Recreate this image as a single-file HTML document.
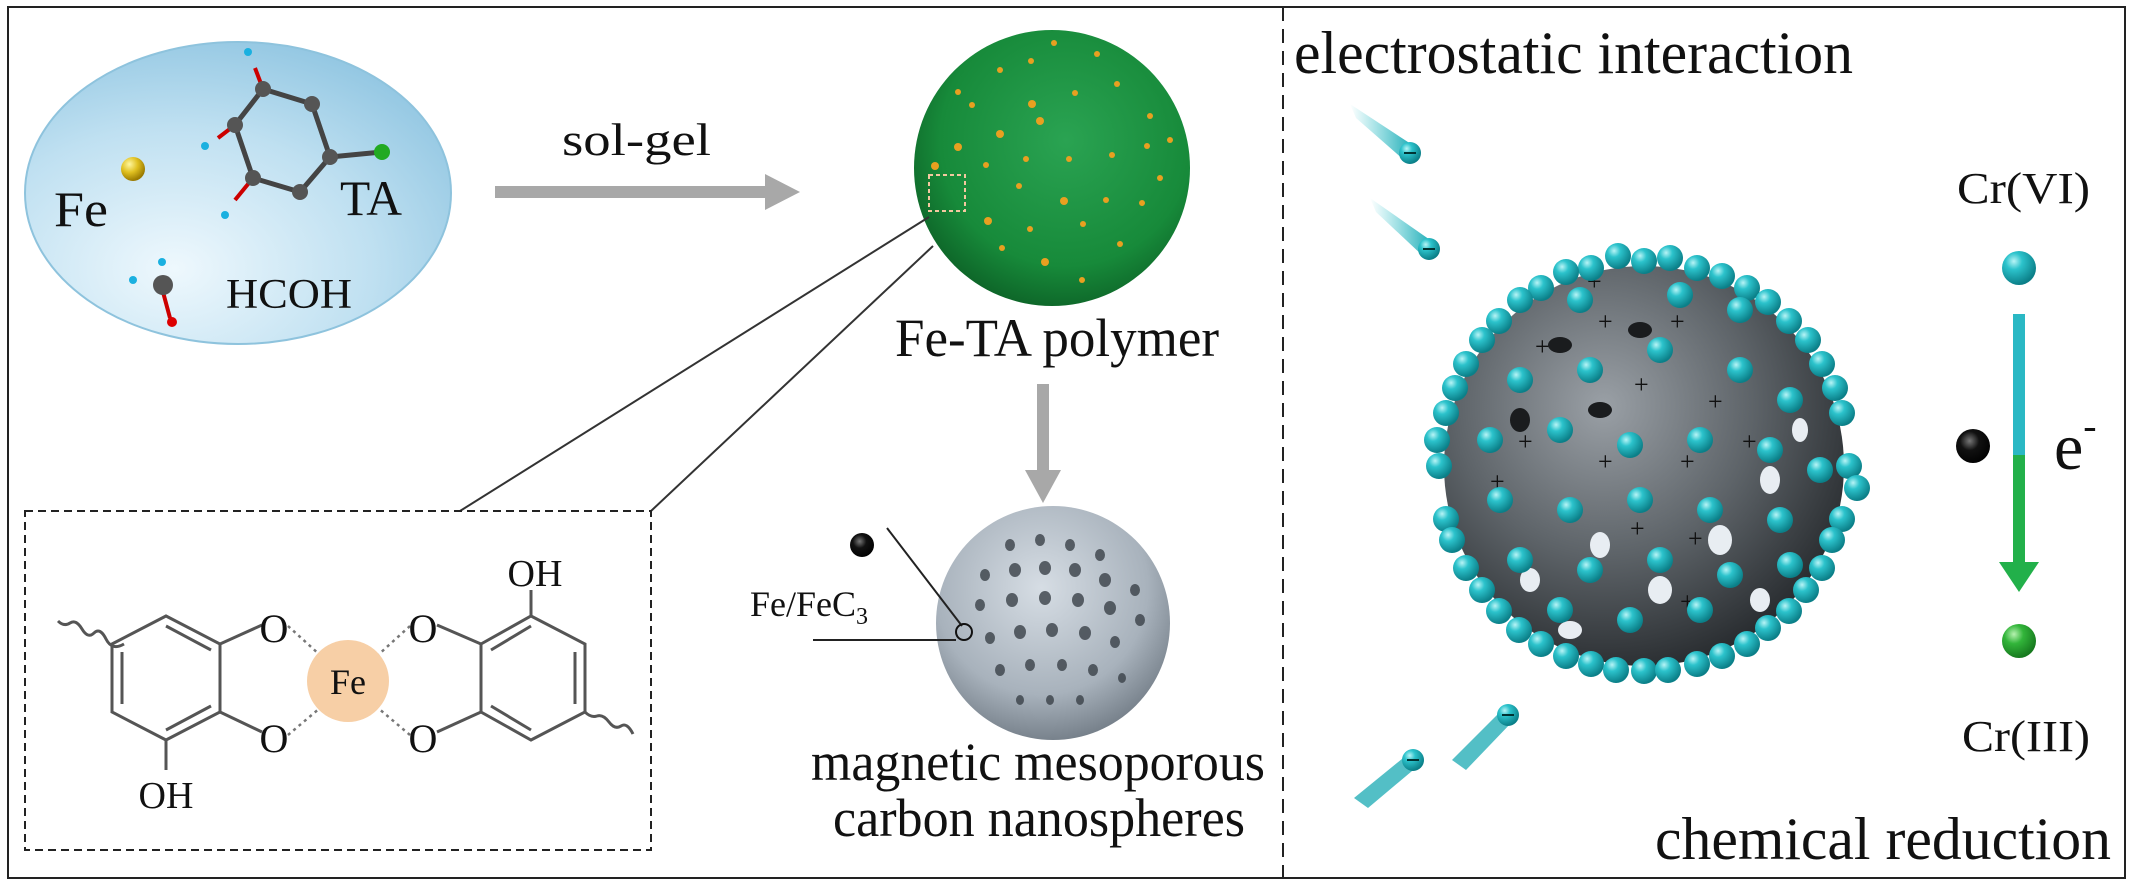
<!DOCTYPE html>
<html><head><meta charset="utf-8"><style>
html,body{margin:0;padding:0;background:#fff;}
svg{display:block;}
text{font-family:"Liberation Serif",serif;fill:#111;}
</style></head><body>
<svg width="2129" height="886" viewBox="0 0 2129 886" xmlns="http://www.w3.org/2000/svg">
<defs>
<radialGradient id="ell" cx="0.35" cy="0.75" r="0.85">
<stop offset="0" stop-color="#eef8fd"/><stop offset="0.55" stop-color="#bfe0f1"/><stop offset="1" stop-color="#8cc3e0"/></radialGradient>
<radialGradient id="grn" cx="0.55" cy="0.4" r="0.65">
<stop offset="0" stop-color="#2aa352"/><stop offset="0.7" stop-color="#178a3a"/><stop offset="1" stop-color="#0c5e25"/></radialGradient>
<radialGradient id="gry" cx="0.45" cy="0.35" r="0.7">
<stop offset="0" stop-color="#d6dde4"/><stop offset="0.65" stop-color="#a8b2bc"/><stop offset="1" stop-color="#6c7680"/></radialGradient>
<radialGradient id="big" cx="0.4" cy="0.35" r="0.75">
<stop offset="0" stop-color="#9aa0a6"/><stop offset="0.5" stop-color="#5d6368"/><stop offset="1" stop-color="#1c1f22"/></radialGradient>
<radialGradient id="teal" cx="0.35" cy="0.3" r="0.7">
<stop offset="0" stop-color="#b8f4f6"/><stop offset="0.35" stop-color="#2cc3cc"/><stop offset="1" stop-color="#0b7f88"/></radialGradient>
<radialGradient id="gball" cx="0.35" cy="0.3" r="0.7">
<stop offset="0" stop-color="#b6f2b0"/><stop offset="0.4" stop-color="#32b53a"/><stop offset="1" stop-color="#177a1f"/></radialGradient>
<radialGradient id="blk" cx="0.4" cy="0.35" r="0.7">
<stop offset="0" stop-color="#777"/><stop offset="0.4" stop-color="#111"/><stop offset="1" stop-color="#000"/></radialGradient>
<radialGradient id="yel" cx="0.35" cy="0.3" r="0.7">
<stop offset="0" stop-color="#fff7a0"/><stop offset="0.5" stop-color="#e0c020"/><stop offset="1" stop-color="#9a7a00"/></radialGradient>
<linearGradient id="tail" x1="0" y1="0" x2="1" y2="0">
<stop offset="0" stop-color="#2cc3cc" stop-opacity="0"/><stop offset="1" stop-color="#1aa9b3"/></linearGradient>
<g id="tb"><circle r="13" fill="url(#teal)"/></g>
</defs>

<rect x="8" y="7" width="2117" height="871" fill="none" stroke="#222" stroke-width="2"/>
<line x1="1283" y1="7" x2="1283" y2="878" stroke="#222" stroke-width="2" stroke-dasharray="14,8"/>

<ellipse cx="238" cy="193" rx="213" ry="151" fill="url(#ell)" stroke="#8ec3dd" stroke-width="2"/>
<circle cx="133" cy="169" r="12" fill="url(#yel)"/>
<text x="54" y="226" font-size="50" textLength="54" lengthAdjust="spacingAndGlyphs">Fe</text>
<text x="340" y="215" font-size="50" textLength="62" lengthAdjust="spacingAndGlyphs">TA</text>
<text x="226" y="308" font-size="42" textLength="126" lengthAdjust="spacingAndGlyphs">HCOH</text>
<g stroke="#444" stroke-width="5" fill="none">
<polyline points="263,89 312,104 330,157 300,192 253,178 235,125 263,89"/>
<line x1="330" y1="157" x2="382" y2="152"/>
</g>
<g stroke="#c00" stroke-width="4"><line x1="263" y1="89" x2="255" y2="68"/><line x1="235" y1="125" x2="218" y2="138"/><line x1="253" y1="178" x2="235" y2="200"/><line x1="163" y1="292" x2="170" y2="318"/></g>
<g fill="#555"><circle cx="263" cy="89" r="8"/><circle cx="312" cy="104" r="8"/><circle cx="330" cy="157" r="8"/><circle cx="300" cy="192" r="8"/><circle cx="253" cy="178" r="8"/><circle cx="235" cy="125" r="8"/><circle cx="163" cy="285" r="10"/></g>
<circle cx="382" cy="152" r="8" fill="#2a2"/>
<g fill="#1ab0e0"><circle cx="248" cy="52" r="4"/><circle cx="205" cy="146" r="4"/><circle cx="225" cy="215" r="4"/><circle cx="133" cy="280" r="4"/><circle cx="162" cy="262" r="4"/></g>
<circle cx="172" cy="322" r="5" fill="#d00"/>

<text x="562" y="155" font-size="46" textLength="149" lengthAdjust="spacingAndGlyphs">sol-gel</text>
<rect x="495" y="186" width="272" height="12" fill="#a8a8a8"/>
<polygon points="765,174 800,192 765,210" fill="#a8a8a8"/>

<circle cx="1052" cy="168" r="138" fill="url(#grn)"/>
<g fill="#e8a020">
<circle cx="1054" cy="43" r="3"/><circle cx="1097" cy="54" r="3"/><circle cx="1031" cy="61" r="3"/><circle cx="1032" cy="104" r="4"/><circle cx="1075" cy="93" r="3"/><circle cx="1117" cy="84" r="3"/><circle cx="1040" cy="121" r="4"/><circle cx="958" cy="92" r="3"/><circle cx="972" cy="105" r="3"/><circle cx="1000" cy="134" r="4"/><circle cx="958" cy="147" r="4"/><circle cx="1026" cy="159" r="3"/><circle cx="1069" cy="159" r="3"/><circle cx="1112" cy="155" r="3"/><circle cx="1147" cy="146" r="3"/><circle cx="1160" cy="178" r="3"/><circle cx="986" cy="165" r="3"/><circle cx="1019" cy="186" r="3"/><circle cx="1064" cy="201" r="4"/><circle cx="1106" cy="200" r="3"/><circle cx="1142" cy="203" r="3"/><circle cx="988" cy="221" r="4"/><circle cx="1030" cy="229" r="3"/><circle cx="1083" cy="224" r="3"/><circle cx="1120" cy="244" r="3"/><circle cx="1045" cy="262" r="4"/><circle cx="1002" cy="248" r="3"/><circle cx="1082" cy="280" r="3"/><circle cx="1150" cy="116" r="3"/><circle cx="935" cy="166" r="4"/><circle cx="1170" cy="140" r="3"/><circle cx="1000" cy="70" r="3"/>
</g>
<rect x="929" y="175" width="36" height="36" fill="none" stroke="#f4c8a0" stroke-width="2" stroke-dasharray="4,3"/>
<text x="895" y="356" font-size="54" textLength="324" lengthAdjust="spacingAndGlyphs">Fe-TA polymer</text>

<line x1="929" y1="217" x2="460" y2="511" stroke="#333" stroke-width="2"/>
<line x1="933" y1="246" x2="651" y2="511" stroke="#333" stroke-width="2"/>

<rect x="1037" y="384" width="12" height="88" fill="#a8a8a8"/>
<polygon points="1025,470 1061,470 1043,503" fill="#a8a8a8"/>

<circle cx="1053" cy="623" r="117" fill="url(#gry)"/>
<g fill="#3a4148" opacity="0.8">
<ellipse cx="1010" cy="545" rx="5" ry="6"/><ellipse cx="1040" cy="540" rx="5" ry="6"/><ellipse cx="1070" cy="545" rx="5" ry="6"/><ellipse cx="1100" cy="555" rx="5" ry="6"/>
<ellipse cx="985" cy="575" rx="5" ry="6"/><ellipse cx="1015" cy="570" rx="6" ry="7"/><ellipse cx="1045" cy="568" rx="6" ry="7"/><ellipse cx="1075" cy="570" rx="6" ry="7"/><ellipse cx="1105" cy="580" rx="6" ry="7"/><ellipse cx="1135" cy="590" rx="5" ry="6"/>
<ellipse cx="980" cy="605" rx="5" ry="6"/><ellipse cx="1012" cy="600" rx="6" ry="7"/><ellipse cx="1045" cy="598" rx="6" ry="7"/><ellipse cx="1078" cy="600" rx="6" ry="7"/><ellipse cx="1110" cy="608" rx="6" ry="7"/><ellipse cx="1140" cy="620" rx="5" ry="6"/>
<ellipse cx="990" cy="638" rx="5" ry="6"/><ellipse cx="1020" cy="632" rx="6" ry="7"/><ellipse cx="1052" cy="630" rx="6" ry="7"/><ellipse cx="1085" cy="633" rx="6" ry="7"/><ellipse cx="1115" cy="642" rx="5" ry="6"/>
<ellipse cx="1000" cy="670" rx="5" ry="6"/><ellipse cx="1030" cy="665" rx="5" ry="6"/><ellipse cx="1062" cy="665" rx="5" ry="6"/><ellipse cx="1093" cy="670" rx="5" ry="6"/><ellipse cx="1122" cy="678" rx="4" ry="5"/>
<ellipse cx="1020" cy="700" rx="4" ry="5"/><ellipse cx="1050" cy="700" rx="4" ry="5"/><ellipse cx="1080" cy="700" rx="4" ry="5"/>
</g>
<circle cx="862" cy="545" r="12" fill="url(#blk)"/>
<line x1="887" y1="528" x2="962" y2="626" stroke="#222" stroke-width="2"/>
<line x1="813" y1="640" x2="956" y2="640" stroke="#222" stroke-width="2"/>
<circle cx="964" cy="632" r="8" fill="none" stroke="#111" stroke-width="2"/>
<text x="750" y="616" font-size="36">Fe/FeC<tspan font-size="24" dy="8">3</tspan></text>
<text x="811" y="780" font-size="54" textLength="454" lengthAdjust="spacingAndGlyphs">magnetic mesoporous</text>
<text x="833" y="836" font-size="54" textLength="412" lengthAdjust="spacingAndGlyphs">carbon nanospheres</text>

<rect x="25" y="511" width="626" height="339" fill="none" stroke="#222" stroke-width="2" stroke-dasharray="8,5"/>
<g stroke="#555" stroke-width="3" fill="none">
<polygon points="112,644 166,616 220,644 220,712 166,740 112,712"/>
<line x1="122" y1="652" x2="122" y2="704"/><line x1="166" y1="626" x2="211" y2="650"/><line x1="166" y1="730" x2="211" y2="706"/>
<polygon points="481,644 531,616 585,644 585,712 531,740 481,712"/>
<line x1="491" y1="650" x2="531" y2="626"/><line x1="491" y1="706" x2="531" y2="730"/><line x1="575" y1="652" x2="575" y2="704"/>
<line x1="220" y1="644" x2="262" y2="625"/><line x1="220" y1="712" x2="262" y2="732"/>
<line x1="481" y1="644" x2="437" y2="625"/><line x1="481" y1="712" x2="437" y2="732"/>
<line x1="531" y1="616" x2="531" y2="590"/><line x1="166" y1="740" x2="166" y2="770"/>
<path d="M58,621 q6,6 12,2 t12,6 t12,4 t12,6 t18,5"/>
<path d="M585,712 q6,6 12,4 t12,6 t12,4 t12,8"/>
</g>
<g stroke="#777" stroke-width="2.5" stroke-dasharray="3,4">
<line x1="288" y1="626" x2="320" y2="655"/><line x1="288" y1="735" x2="320" y2="708"/>
<line x1="410" y1="626" x2="378" y2="655"/><line x1="410" y1="735" x2="378" y2="708"/>
</g>
<circle cx="348" cy="681" r="41" fill="#f7cfa6"/>
<text x="348" y="694" font-size="36" text-anchor="middle">Fe</text>
<text x="274" y="642" font-size="40" text-anchor="middle">O</text>
<text x="274" y="752" font-size="40" text-anchor="middle">O</text>
<text x="423" y="642" font-size="40" text-anchor="middle">O</text>
<text x="423" y="752" font-size="40" text-anchor="middle">O</text>
<text x="535" y="586" font-size="38" text-anchor="middle">OH</text>
<text x="166" y="808" font-size="38" text-anchor="middle">OH</text>

<text x="1294" y="73" font-size="60" textLength="559" lengthAdjust="spacingAndGlyphs">electrostatic interaction</text>
<text x="1655" y="859" font-size="60" textLength="456" lengthAdjust="spacingAndGlyphs">chemical reduction</text>

<g>
<polygon points="1350,104 1356,118 1404,160 1414,146" fill="url(#tail)"/>
<circle cx="1410" cy="153" r="11" fill="url(#teal)"/><line x1="1404" y1="153" x2="1416" y2="153" stroke="#033" stroke-width="2"/>
<polygon points="1370,198 1376,212 1423,256 1433,242" fill="url(#tail)"/>
<circle cx="1429" cy="249" r="11" fill="url(#teal)"/><line x1="1423" y1="249" x2="1435" y2="249" stroke="#033" stroke-width="2"/>
<polygon points="1452,760 1466,770 1512,722 1502,710" fill="#1aa9b3" opacity="0.75"/>
<circle cx="1508" cy="715" r="11" fill="url(#teal)"/><line x1="1502" y1="715" x2="1514" y2="715" stroke="#033" stroke-width="2"/>
<polygon points="1354,798 1368,808 1418,766 1408,754" fill="#1aa9b3" opacity="0.75"/>
<circle cx="1413" cy="760" r="11" fill="url(#teal)"/><line x1="1407" y1="760" x2="1419" y2="760" stroke="#033" stroke-width="2"/>
</g>

<circle cx="1644" cy="466" r="200" fill="url(#big)"/>
<g fill="#1a1c1e">
<ellipse cx="1560" cy="345" rx="12" ry="8"/><ellipse cx="1640" cy="330" rx="12" ry="8"/><ellipse cx="1520" cy="420" rx="10" ry="12"/><ellipse cx="1600" cy="410" rx="12" ry="8"/>
</g>
<g fill="#e8edf2">
<ellipse cx="1770" cy="480" rx="10" ry="14"/><ellipse cx="1720" cy="540" rx="12" ry="15"/><ellipse cx="1660" cy="590" rx="12" ry="14"/><ellipse cx="1600" cy="545" rx="10" ry="13"/><ellipse cx="1800" cy="430" rx="8" ry="12"/><ellipse cx="1570" cy="630" rx="12" ry="9"/><ellipse cx="1760" cy="600" rx="10" ry="12"/><ellipse cx="1530" cy="580" rx="10" ry="12"/>
</g>
<g font-size="26" fill="#111">
<text x="1587" y="290">+</text><text x="1598" y="330">+</text><text x="1670" y="330">+</text><text x="1535" y="355">+</text><text x="1634" y="393">+</text><text x="1708" y="410">+</text><text x="1518" y="450">+</text><text x="1598" y="470">+</text><text x="1680" y="470">+</text><text x="1742" y="450">+</text><text x="1490" y="490">+</text><text x="1630" y="537">+</text><text x="1688" y="547">+</text><text x="1680" y="610">+</text>
</g>
<g>
<use href="#tb" x="1849" y="466"/><use href="#tb" x="1842" y="519"/><use href="#tb" x="1822" y="568"/><use href="#tb" x="1789" y="611"/><use href="#tb" x="1747" y="644"/><use href="#tb" x="1697" y="664"/><use href="#tb" x="1644" y="671"/><use href="#tb" x="1591" y="664"/><use href="#tb" x="1541" y="644"/><use href="#tb" x="1499" y="611"/><use href="#tb" x="1466" y="568"/><use href="#tb" x="1446" y="519"/><use href="#tb" x="1439" y="466"/><use href="#tb" x="1446" y="413"/><use href="#tb" x="1466" y="364"/><use href="#tb" x="1499" y="321"/><use href="#tb" x="1541" y="288"/><use href="#tb" x="1591" y="268"/><use href="#tb" x="1644" y="261"/><use href="#tb" x="1697" y="268"/><use href="#tb" x="1747" y="288"/><use href="#tb" x="1789" y="321"/><use href="#tb" x="1822" y="364"/><use href="#tb" x="1842" y="413"/>
<use href="#tb" x="1857" y="488"/><use href="#tb" x="1832" y="540"/><use href="#tb" x="1806" y="590"/><use href="#tb" x="1768" y="628"/><use href="#tb" x="1722" y="656"/><use href="#tb" x="1668" y="670"/><use href="#tb" x="1616" y="670"/><use href="#tb" x="1566" y="656"/><use href="#tb" x="1519" y="630"/><use href="#tb" x="1482" y="590"/><use href="#tb" x="1452" y="540"/><use href="#tb" x="1437" y="440"/><use href="#tb" x="1455" y="388"/><use href="#tb" x="1482" y="340"/><use href="#tb" x="1520" y="300"/><use href="#tb" x="1566" y="272"/><use href="#tb" x="1618" y="256"/><use href="#tb" x="1670" y="258"/><use href="#tb" x="1722" y="276"/><use href="#tb" x="1768" y="302"/><use href="#tb" x="1808" y="340"/><use href="#tb" x="1835" y="388"/>
<use href="#tb" x="1580" y="300"/><use href="#tb" x="1680" y="295"/><use href="#tb" x="1740" y="310"/>
<use href="#tb" x="1520" y="380"/><use href="#tb" x="1590" y="370"/><use href="#tb" x="1660" y="350"/><use href="#tb" x="1740" y="370"/><use href="#tb" x="1790" y="400"/>
<use href="#tb" x="1490" y="440"/><use href="#tb" x="1560" y="430"/><use href="#tb" x="1630" y="445"/><use href="#tb" x="1700" y="440"/><use href="#tb" x="1770" y="450"/><use href="#tb" x="1820" y="470"/>
<use href="#tb" x="1500" y="500"/><use href="#tb" x="1570" y="510"/><use href="#tb" x="1640" y="500"/><use href="#tb" x="1710" y="510"/><use href="#tb" x="1780" y="520"/>
<use href="#tb" x="1520" y="560"/><use href="#tb" x="1590" y="570"/><use href="#tb" x="1660" y="560"/><use href="#tb" x="1730" y="575"/><use href="#tb" x="1790" y="565"/>
<use href="#tb" x="1560" y="610"/><use href="#tb" x="1630" y="620"/><use href="#tb" x="1700" y="610"/>
</g>

<text x="1957" y="203" font-size="44" textLength="133" lengthAdjust="spacingAndGlyphs">Cr(VI)</text>
<circle cx="2019" cy="268" r="17" fill="url(#teal)"/>
<rect x="2013" y="314" width="12" height="142" fill="#2ab8c4"/>
<rect x="2013" y="455" width="12" height="112" fill="#22b04a"/>
<polygon points="1999,562 2039,562 2019,592" fill="#22b04a"/>
<circle cx="1973" cy="446" r="17" fill="url(#blk)"/>
<text x="2054" y="469" font-size="66">e<tspan font-size="40" dy="-30">-</tspan></text>
<circle cx="2019" cy="641" r="17" fill="url(#gball)"/>
<text x="1962" y="751" font-size="44" textLength="128" lengthAdjust="spacingAndGlyphs">Cr(III)</text>
</svg>
</body></html>
